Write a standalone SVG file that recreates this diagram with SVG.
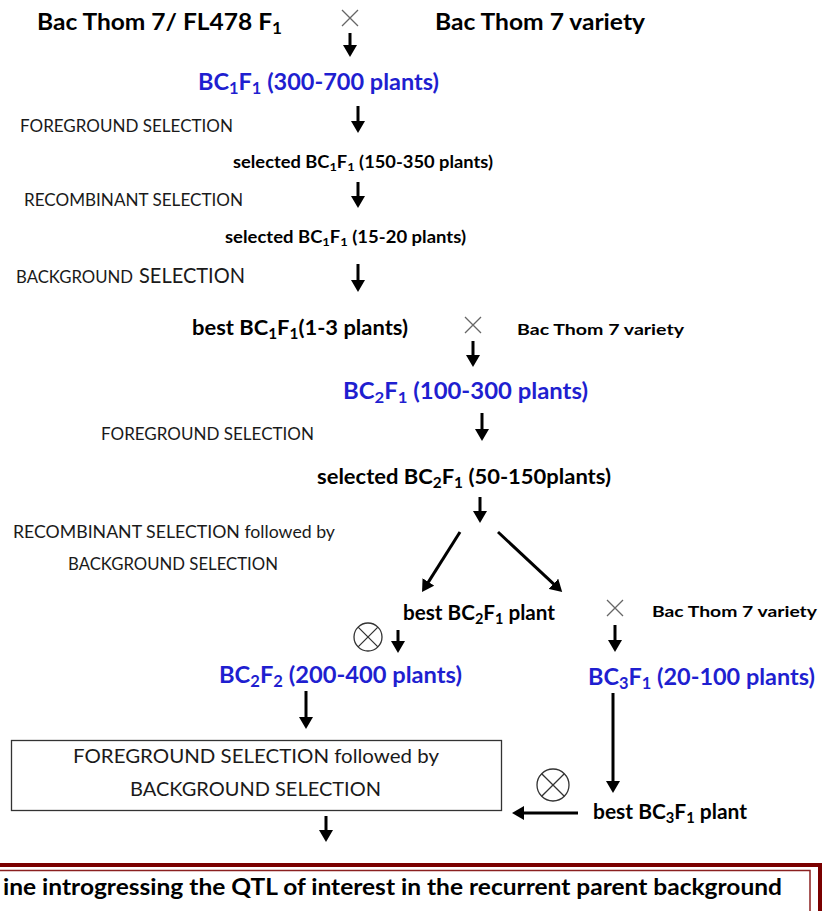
<svg xmlns="http://www.w3.org/2000/svg" width="823" height="911" viewBox="0 0 823 911">
<defs>
<marker id="ah" viewBox="0 0 12 14" refX="2" refY="7" markerWidth="12" markerHeight="14" markerUnits="userSpaceOnUse" orient="auto">
<path d="M0,0 L12,7 L0,14 z" fill="#000"/>
</marker>
<style>
text{font-family:"Lato","Liberation Sans",sans-serif;fill:#000}
.b{font-weight:bold}
.blue{fill:#1f1fd0;font-weight:bold}
.lbl{font-weight:normal;fill:#1a1a1a}
.sub{font-size:70%}
.x{stroke:#666;stroke-width:1.3;fill:none}
.ot{stroke:#333;stroke-width:1.3;fill:none}
.arr{stroke:#000;stroke-width:3;fill:none;marker-end:url(#ah)}
</style>
</defs>
<rect width="823" height="911" fill="#fff"/>

<g id="parents1">
<text class="b" x="37" y="30" font-size="23" textLength="245" lengthAdjust="spacingAndGlyphs">Bac Thom  7/ FL478  F<tspan class="sub" dy="4">1</tspan></text>
<path class="x" d="M342,10 L358,26 M358,10 L342,26"/>
<text class="b" x="435" y="30" font-size="23" textLength="210" lengthAdjust="spacingAndGlyphs">Bac Thom  7 variety</text>
</g>

<g id="bc1f1">
<text class="blue" x="198" y="90" font-size="23" textLength="241" lengthAdjust="spacingAndGlyphs">BC<tspan class="sub" dy="4">1</tspan><tspan dy="-4">F</tspan><tspan class="sub" dy="4">1</tspan><tspan dy="-4"> (300-700 plants)</tspan></text>
</g>

<g id="fg1"><text class="lbl" x="20" y="132" font-size="17.5" textLength="213" lengthAdjust="spacingAndGlyphs">FOREGROUND SELECTION</text></g>

<g id="sel1">
<text class="b" x="233" y="168" font-size="16.5" textLength="260" lengthAdjust="spacingAndGlyphs">selected BC<tspan class="sub" dy="3">1</tspan><tspan dy="-3">F</tspan><tspan class="sub" dy="3">1</tspan><tspan dy="-3"> (150-350 plants)</tspan></text>
</g>

<g id="rec1"><text class="lbl" x="24" y="206" font-size="17.5" textLength="219" lengthAdjust="spacingAndGlyphs">RECOMBINANT SELECTION</text></g>

<g id="sel2">
<text class="b" x="225" y="243" font-size="16.5" textLength="241" lengthAdjust="spacingAndGlyphs">selected BC<tspan class="sub" dy="3">1</tspan><tspan dy="-3">F</tspan><tspan class="sub" dy="3">1</tspan><tspan dy="-3"> (15-20 plants)</tspan></text>
</g>

<g id="bg1">
<text class="lbl" x="16" y="283" font-size="17.5" textLength="117" lengthAdjust="spacingAndGlyphs">BACKGROUND</text>
<text class="lbl" x="139" y="283" font-size="22" textLength="106" lengthAdjust="spacingAndGlyphs">SELECTION</text>
</g>

<g id="best1">
<text class="b" x="192" y="335" font-size="21" textLength="216" lengthAdjust="spacingAndGlyphs">best BC<tspan class="sub" dy="4">1</tspan><tspan dy="-4">F</tspan><tspan class="sub" dy="4">1</tspan><tspan dy="-4">(1-3 plants)</tspan></text>
<path class="x" d="M465,317 L481,333 M481,317 L465,333"/>
<text class="b" x="517" y="335" font-size="16" textLength="167" lengthAdjust="spacingAndGlyphs">Bac Thom 7  variety</text>
</g>

<g id="bc2f1">
<text class="blue" x="343" y="399" font-size="22.5" textLength="245" lengthAdjust="spacingAndGlyphs">BC<tspan class="sub" dy="4">2</tspan><tspan dy="-4">F</tspan><tspan class="sub" dy="4">1</tspan><tspan dy="-4"> (100-300 plants)</tspan></text>
</g>

<g id="fg2"><text class="lbl" x="101" y="440" font-size="17.5" textLength="213" lengthAdjust="spacingAndGlyphs">FOREGROUND SELECTION</text></g>

<g id="sel3">
<text class="b" x="317" y="484" font-size="21" textLength="294" lengthAdjust="spacingAndGlyphs">selected BC<tspan class="sub" dy="4">2</tspan><tspan dy="-4">F</tspan><tspan class="sub" dy="4">1</tspan><tspan dy="-4"> (50-150plants)</tspan></text>
</g>

<g id="recbg">
<text class="lbl" x="13" y="538" font-size="17.5" textLength="322" lengthAdjust="spacingAndGlyphs">RECOMBINANT SELECTION  followed by</text>
<text class="lbl" x="68" y="570" font-size="17.5" textLength="210" lengthAdjust="spacingAndGlyphs">BACKGROUND SELECTION</text>
</g>

<g id="best2">
<text class="b" x="403" y="620" font-size="21" textLength="152" lengthAdjust="spacingAndGlyphs">best BC<tspan class="sub" dy="4">2</tspan><tspan dy="-4">F</tspan><tspan class="sub" dy="4">1</tspan><tspan dy="-4"> plant</tspan></text>
<path class="x" d="M607,600 L623,616 M623,600 L607,616"/>
<text class="b" x="652" y="617" font-size="16" textLength="165" lengthAdjust="spacingAndGlyphs">Bac Thom 7  variety</text>
</g>

<g id="self1">
<circle class="ot" cx="368" cy="637" r="14"/>
<path class="ot" d="M358.1,627.1 L377.9,646.9 M377.9,627.1 L358.1,646.9"/>
</g>

<g id="bc2f2">
<text class="blue" x="219" y="683" font-size="23" textLength="243" lengthAdjust="spacingAndGlyphs">BC<tspan class="sub" dy="4">2</tspan><tspan dy="-4">F</tspan><tspan class="sub" dy="4">2</tspan><tspan dy="-4"> (200-400 plants)</tspan></text>
</g>

<g id="bc3f1">
<text class="blue" x="588" y="685" font-size="23" textLength="227" lengthAdjust="spacingAndGlyphs">BC<tspan class="sub" dy="4">3</tspan><tspan dy="-4">F</tspan><tspan class="sub" dy="4">1</tspan><tspan dy="-4"> (20-100 plants)</tspan></text>
</g>

<g id="fgbgbox">
<rect x="11.5" y="740.5" width="490" height="70" fill="#fff" stroke="#333" stroke-width="1.3"/>
<text class="lbl" x="73" y="763" font-size="20" textLength="366" lengthAdjust="spacingAndGlyphs">FOREGROUND SELECTION followed by</text>
<text class="lbl" x="130" y="796" font-size="20" textLength="251" lengthAdjust="spacingAndGlyphs">BACKGROUND SELECTION</text>
</g>

<g id="self2">
<circle class="ot" cx="553" cy="785" r="16"/>
<path class="ot" d="M541.7,773.7 L564.3,796.3 M564.3,773.7 L541.7,796.3"/>
</g>

<g id="best3">
<text class="b" x="593" y="819" font-size="21" textLength="154" lengthAdjust="spacingAndGlyphs">best BC<tspan class="sub" dy="4">3</tspan><tspan dy="-4">F</tspan><tspan class="sub" dy="4">1</tspan><tspan dy="-4"> plant</tspan></text>
</g>

<g id="result">
<rect x="-10" y="865" width="830" height="70" fill="#fff" stroke="#7a0000" stroke-width="4"/>
<rect x="-10" y="870.5" width="820" height="60" fill="none" stroke="#8b2020" stroke-width="1.5"/>
<text class="b" x="3" y="895" font-size="23" textLength="779" lengthAdjust="spacingAndGlyphs">ine introgressing  the QTL of interest in the recurrent parent background</text>
</g>

<g id="connectors">
<line class="arr" x1="350" y1="33" x2="350" y2="47"/>
<line class="arr" x1="358" y1="106" x2="358" y2="123"/>
<line class="arr" x1="358" y1="182" x2="358" y2="198"/>
<line class="arr" x1="358" y1="264" x2="358" y2="282"/>
<line class="arr" x1="473" y1="341" x2="473" y2="357"/>
<line class="arr" x1="482" y1="413" x2="482" y2="431"/>
<line class="arr" x1="480" y1="497" x2="480" y2="513"/>
<line class="arr" x1="460" y1="532" x2="427.4" y2="583.6"/>
<line class="arr" x1="498" y1="532" x2="554.9" y2="585.2"/>
<line class="arr" x1="398" y1="630" x2="398" y2="643"/>
<line class="arr" x1="615" y1="625" x2="615" y2="642"/>
<line class="arr" x1="306" y1="691" x2="306" y2="719"/>
<line class="arr" x1="613" y1="693" x2="613" y2="783"/>
<line class="arr" x1="578" y1="813" x2="522" y2="813"/>
<line class="arr" x1="326" y1="816" x2="326" y2="832"/>
</g>
</svg>
